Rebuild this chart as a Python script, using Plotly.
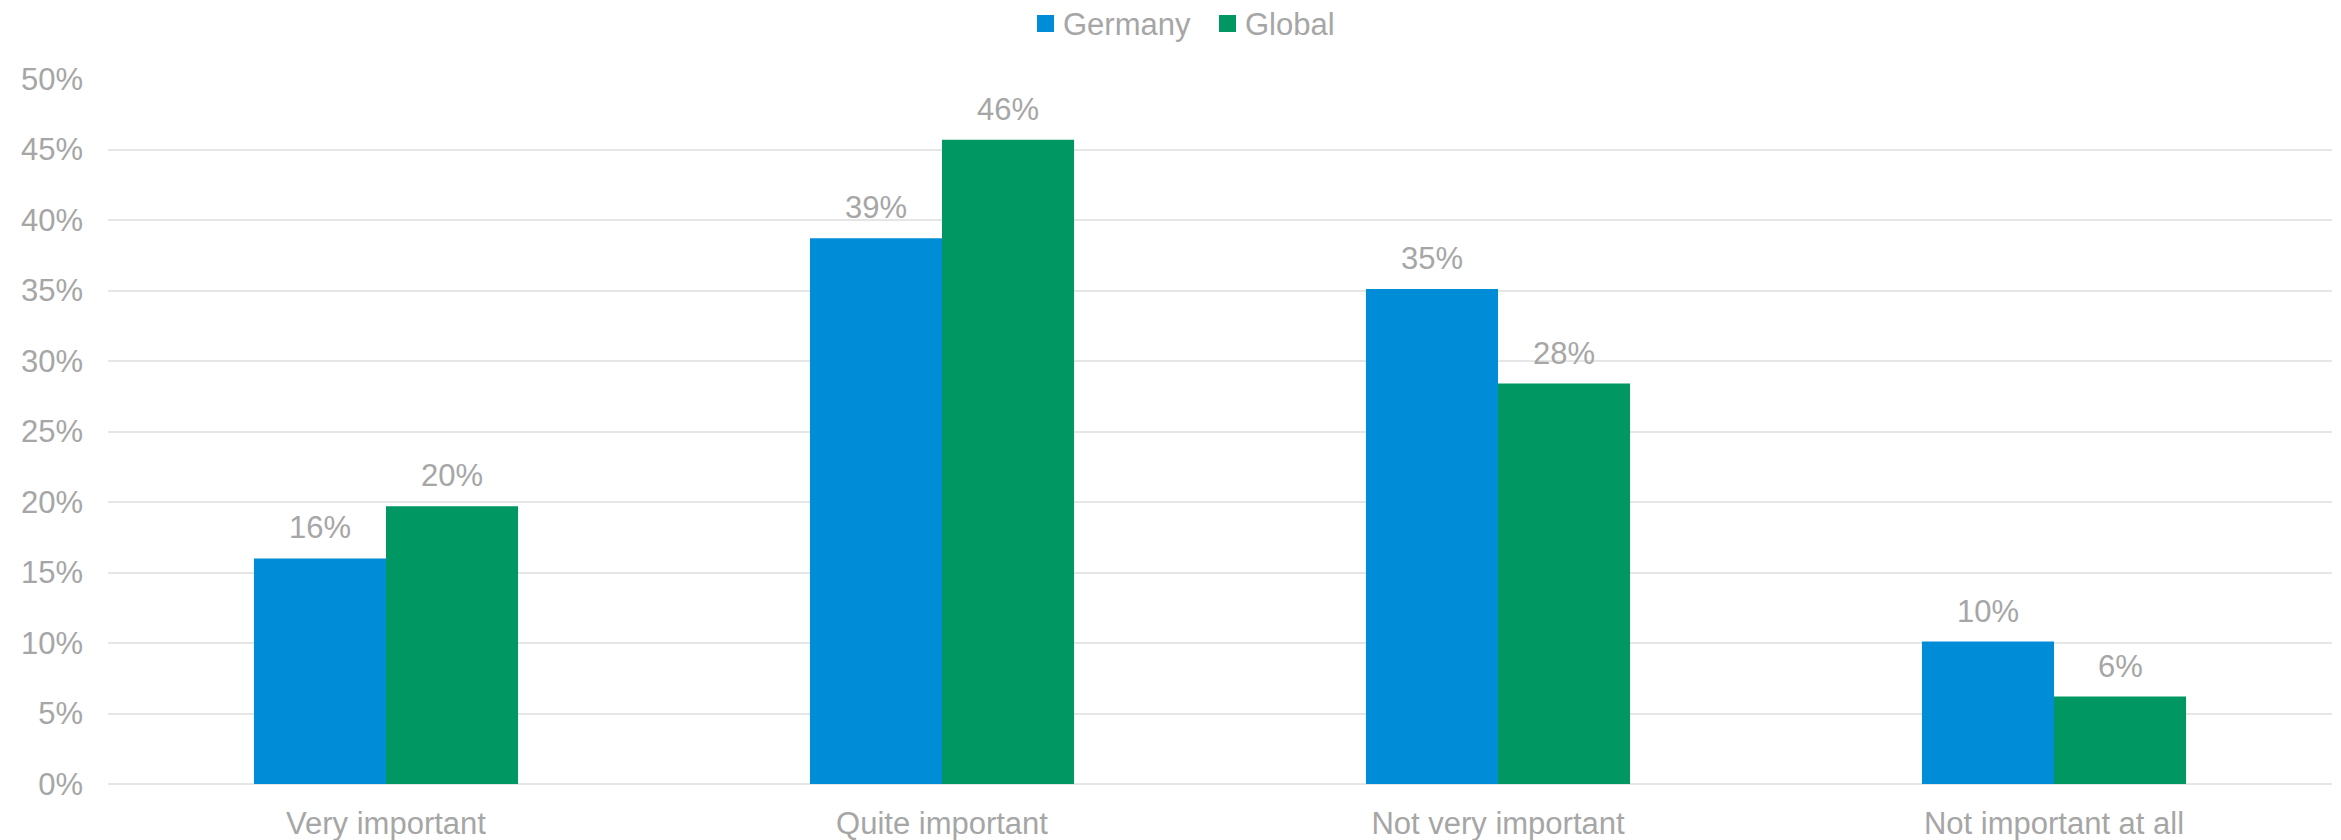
import plotly.graph_objects as go

categories = ["Very important", "Quite important", "Not very important", "Not important at all"]
germany = [0.160, 0.387, 0.351, 0.101]
global_ = [0.197, 0.457, 0.284, 0.062]
series_names = ["Germany", "Global"]
y_ticks = [0, 0.05, 0.10, 0.15, 0.20, 0.25, 0.30, 0.35, 0.40, 0.45, 0.50]
y_tick_labels = ["0%", "5%", "10%", "15%", "20%", "25%", "30%", "35%", "40%", "45%", "50%"]

BLUE = "#008CD6"
GREEN = "#009763"
GRAY = "#a6a6a6"
FONT = "Liberation Sans, Arial, sans-serif"

W, H = 2341, 840
ML, MR, MT, MB = 108, 9, 79, 56
PW, PH = W - ML - MR, H - MT - MB


def px(x):
    return (x - ML) / PW


def py(y):
    return (H - MB - y) / PH


fig = go.Figure()
fig.add_trace(go.Bar(name=series_names[0], x=categories, y=germany, marker=dict(color=BLUE, line=dict(width=0))))
fig.add_trace(go.Bar(name=series_names[1], x=categories, y=global_, marker=dict(color=GREEN, line=dict(width=0))))

annotations = []
for series, shift in ((germany, -66), (global_, 66)):
    for c, v in zip(categories, series):
        annotations.append(dict(
            x=c, y=v, xref="x", yref="y", text=f"{round(v * 100):d}%",
            showarrow=False, xshift=shift, yanchor="bottom", yshift=11,
            font=dict(family=FONT, size=31, color=GRAY),
        ))

# custom legend (square swatch + label) drawn at the top centre
shapes = []
legend_items = [(series_names[0], BLUE, 1037), (series_names[1], GREEN, 1219)]
for name, color, x0 in legend_items:
    shapes.append(dict(type="rect", xref="paper", yref="paper",
                       x0=px(x0), x1=px(x0 + 17), y0=py(32), y1=py(15),
                       fillcolor=color, line=dict(width=0)))
    annotations.append(dict(x=px(x0 + 24), y=py(24), xref="paper", yref="paper",
                            text=name, showarrow=False, xanchor="left", yanchor="middle",
                            font=dict(family=FONT, size=31, color=GRAY)))

fig.update_layout(
    width=W, height=H,
    margin=dict(l=ML, r=MR, t=MT, b=MB, autoexpand=False),
    paper_bgcolor="white", plot_bgcolor="white",
    barmode="group", bargap=0.525, bargroupgap=0,
    font=dict(family=FONT, size=31, color=GRAY),
    showlegend=False,
    annotations=annotations,
    shapes=shapes,
)
fig.update_xaxes(showgrid=False, showline=False, ticks="", zeroline=False, automargin=False,
                 tickfont=dict(family=FONT, size=31, color=GRAY), ticklabelstandoff=18)
fig.update_yaxes(range=[0, 0.5], tickvals=y_ticks, ticktext=y_tick_labels, automargin=False,
                 showgrid=True, gridcolor="#e6e6e6", gridwidth=2,
                 zeroline=True, zerolinecolor="#e6e6e6", zerolinewidth=2,
                 showline=False, ticks="", ticklabelstandoff=24,
                 tickfont=dict(family=FONT, size=31, color=GRAY))

fig.write_html("out.html", config={"displayModeBar": False},
               post_script="document.body.style.margin='0';document.body.style.overflow='hidden';")
